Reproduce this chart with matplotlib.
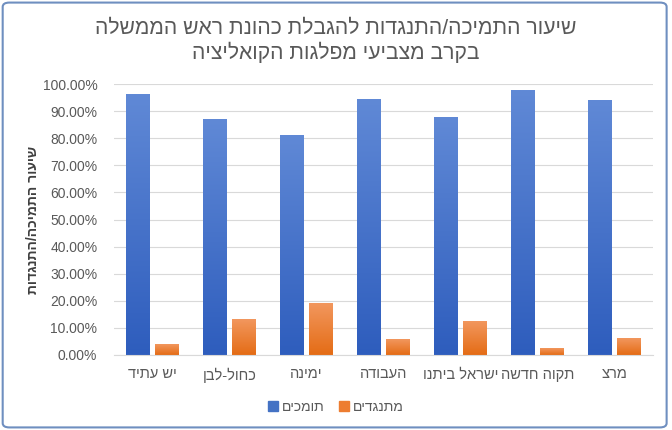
import numpy as np
import matplotlib
matplotlib.use("Agg")
import matplotlib.pyplot as plt
from matplotlib.patches import FancyBboxPatch, Patch
from matplotlib.colors import LinearSegmentedColormap
from matplotlib.ticker import FuncFormatter

plt.rcParams['font.family'] = ['Liberation Sans', 'DejaVu Sans']

# -----------------------------
# Data
# -----------------------------
title_lines = ["שיעור התמיכה/התנגדות להגבלת כהונת ראש הממשלה",
               "בקרב מצביעי מפלגות הקואליציה"]
y_label = "שיעור התמיכה/התנגדות"
parties = ["יש עתיד", "כחול-לבן", "ימינה", "העבודה", "ישראל ביתנו", "תקוה חדשה", "מרצ"]
series_names = ["תומכים", "מתנגדים"]
support = [0.961, 0.870, 0.809, 0.943, 0.878, 0.976, 0.938]
oppose = [0.039, 0.130, 0.191, 0.057, 0.122, 0.024, 0.062]
y_ticks = [0.0, 0.1, 0.2, 0.3, 0.4, 0.5, 0.6, 0.7, 0.8, 0.9, 1.0]

TEXT = '#595959'


def rtl(s):
    # matplotlib has no bidi support, so flip hebrew to visual order
    return s[::-1]


def gradient_bars(ax, bars, top_color, bottom_color):
    cmap = LinearSegmentedColormap.from_list("g", [bottom_color, top_color])
    grad = np.linspace(0, 1, 256).reshape(-1, 1)
    for b in bars:
        x, y = b.get_x(), b.get_y()
        w, h = b.get_width(), b.get_height()
        ax.imshow(grad, cmap=cmap, extent=[x, x + w, y, y + h],
                  origin='lower', aspect='auto', zorder=2)
        b.set_facecolor('none')
        b.set_edgecolor('none')


fig = plt.figure(figsize=(6.72, 4.30), dpi=100)
ax = fig.add_axes([114 / 672, 1 - 355 / 430, (653 - 114) / 672, (355 - 84) / 430])

x = np.arange(len(parties))
width = 0.31
off = 0.19

b1 = ax.bar(x - off, support, width, zorder=2)
b2 = ax.bar(x + off, oppose, width, zorder=2)
gradient_bars(ax, b1, '#6089D6', '#2E5DBD')
gradient_bars(ax, b2, '#F2975E', '#E46C15')

ax.set_xlim(-0.5, len(parties) - 0.5)
ax.set_ylim(0, 1.0)
ax.set_yticks(y_ticks)
ax.yaxis.set_major_formatter(FuncFormatter(lambda v, p: f"{v * 100:.2f}%"))
ax.set_xticks(x)
ax.set_xticklabels([rtl(p) for p in parties])

ax.tick_params(axis='y', length=0, labelsize=10, colors=TEXT, pad=12)
ax.tick_params(axis='x', length=0, labelsize=10.5, colors=TEXT, pad=9)

for s in ['top', 'right', 'left']:
    ax.spines[s].set_visible(False)
ax.spines['bottom'].set_color('#D9D9D9')
ax.yaxis.grid(True, color='#D9D9D9', lw=0.8)
ax.set_axisbelow(True)

# titles
fig.text(0.5, 1 - 28 / 430, rtl(title_lines[0]), ha='center', va='center',
         fontsize=15.2, color=TEXT)
fig.text(0.5, 1 - 52 / 430, rtl(title_lines[1]), ha='center', va='center',
         fontsize=15.2, color=TEXT)

fig.text(33 / 672, 1 - 220 / 430, rtl(y_label), rotation=90, ha='center',
         va='center', fontsize=10, fontweight='bold', color='#404040')

handles = [Patch(color='#4472C4'), Patch(color='#ED7D31')]
leg = fig.legend(handles, [rtl(n) for n in series_names], loc='center',
                 bbox_to_anchor=(0.5, 1 - 407 / 430), ncol=2, frameon=False,
                 fontsize=10, handlelength=0.7, handleheight=0.7,
                 handletextpad=0.3, columnspacing=1.0)
for t in leg.get_texts():
    t.set_color(TEXT)

# chart border
fig.patches.append(FancyBboxPatch((0.004, 0.006), 0.988, 0.988,
                                  boxstyle='round,pad=0,rounding_size=0.01',
                                  transform=fig.transFigure, fill=False,
                                  edgecolor='#6F8FC0', lw=1.5))

fig.savefig('out.png', dpi=100)
